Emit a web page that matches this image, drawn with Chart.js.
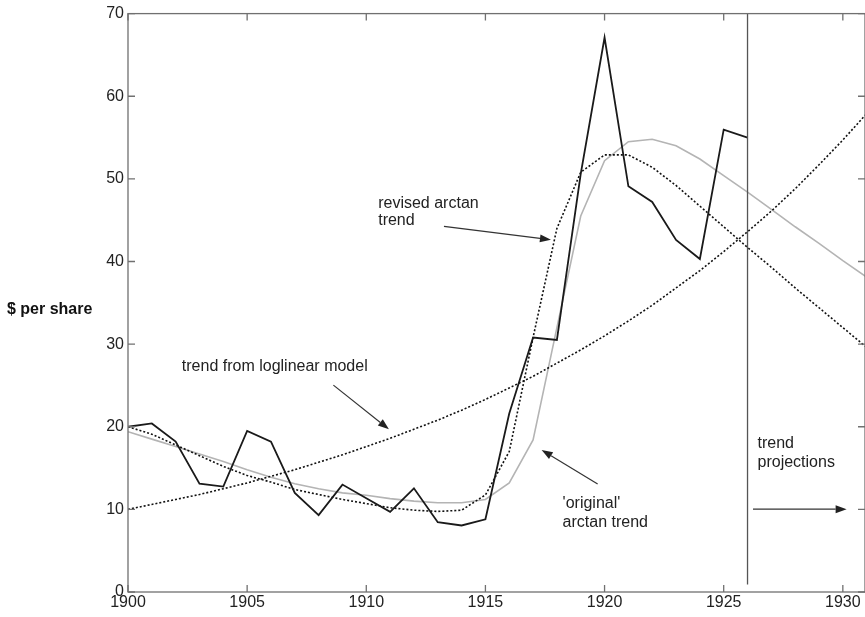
<!DOCTYPE html>
<html>
<head>
<meta charset="utf-8">
<script src="https://cdn.jsdelivr.net/npm/chart.js@4.4.1/dist/chart.umd.min.js"></script>
<style>
  html, body { margin: 0; padding: 0; background: #fff; }
  #wrap { position: relative; width: 865px; height: 617px; }
</style>
</head>
<body>
<div id="wrap"><canvas id="stockChart"></canvas></div>
<script>
// years covered
const priceYears = [1900, 1901, 1902, 1903, 1904, 1905, 1906, 1907, 1908, 1909,
    1910, 1911, 1912, 1913, 1914, 1915, 1916, 1917, 1918, 1919,
    1920, 1921, 1922, 1923, 1924, 1925, 1926];
const trendYears = [1900, 1901, 1902, 1903, 1904, 1905, 1906, 1907, 1908, 1909,
    1910, 1911, 1912, 1913, 1914, 1915, 1916, 1917, 1918, 1919,
    1920, 1921, 1922, 1923, 1924, 1925, 1926, 1927, 1928, 1929, 1930, 1931];

// $ per share
const priceValues = [20.0, 20.4, 18.2, 13.1, 12.75, 19.5, 18.2, 12.0, 9.3, 13.0,
    11.35, 9.7, 12.55, 8.45, 8.05, 8.8, 21.6, 30.8, 30.5, 50.6,
    67.1, 49.1, 47.2, 42.6, 40.3, 55.95, 55.0];
const revisedArctan = [20.0, 19.1, 17.8, 16.5, 15.2, 14.1, 13.3, 12.4, 11.8, 11.2,
    10.7, 10.2, 9.9, 9.75, 9.9, 11.75, 17.0, 30.8, 44.0, 50.8,
    52.9, 52.9, 51.4, 49.2, 46.7, 44.2, 41.7, 39.3, 36.8, 34.4, 32.0, 29.6];
const originalArctan = [19.4, 18.5, 17.6, 16.7, 15.8, 14.8, 13.9, 13.1, 12.5, 12.0,
    11.7, 11.3, 11.0, 10.8, 10.8, 11.2, 13.2, 18.4, 32.0, 45.5,
    52.2, 54.5, 54.8, 54.0, 52.4, 50.4, 48.4, 46.3, 44.2, 42.2, 40.1, 38.1];
const loglinearTrend = [10.0, 10.6, 11.2, 11.8, 12.5, 13.2, 14.0, 14.8, 15.7, 16.6,
    17.6, 18.6, 19.7, 20.8, 22.0, 23.3, 24.7, 26.1, 27.7, 29.3,
    31.0, 32.8, 34.7, 36.8, 38.9, 41.2, 43.6, 46.1, 48.8, 51.7, 54.7, 57.9];

const xTicks = [1900, 1905, 1910, 1915, 1920, 1925, 1930];
const yTicks = [0, 10, 20, 30, 40, 50, 60, 70];
const projectionYear = 1926;

// annotation texts, anchored in data units (year, value)
const notes = [
    { lines: ['revised arctan', 'trend'], at: [1910.5, 47.05], gap: 2.15 },
    { lines: ['trend from loglinear model'], at: [1902.26, 27.25], gap: 0 },
    { lines: ["'original'", 'arctan trend'], at: [1918.24, 10.66], gap: 2.26 },
    { lines: ['trend', 'projections'], at: [1926.42, 18.0], gap: 2.35 }
];
const arrows = [
    [[1913.26, 44.24], [1917.75, 42.63]],
    [[1908.62, 25.04], [1910.95, 19.69]],
    [[1919.71, 13.08], [1917.36, 17.19]],
    [[1926.23, 10.02], [1930.16, 10.02]]
];

const FONT = '"Liberation Sans", Arial, Helvetica, sans-serif';

function toXY(arr, years) {
    return arr.map((v, i) => ({ x: years[i], y: v }));
}

const framePlugin = {
    id: 'framePlugin',
    afterDatasetsDraw(chart) {
        const { ctx, chartArea: a, scales: { x, y } } = chart;
        ctx.save();

        // projection divider
        ctx.strokeStyle = '#555';
        ctx.lineWidth = 1.3;
        ctx.beginPath();
        ctx.moveTo(x.getPixelForValue(projectionYear), a.top);
        ctx.lineTo(x.getPixelForValue(projectionYear), y.getPixelForValue(0.9));
        ctx.stroke();

        // box + inward ticks
        ctx.strokeStyle = '#707070';
        ctx.lineWidth = 1.3;
        ctx.strokeRect(a.left, a.top, a.right - a.left, a.bottom - a.top);
        ctx.beginPath();
        xTicks.forEach(v => {
            const px = x.getPixelForValue(v);
            ctx.moveTo(px, a.bottom); ctx.lineTo(px, a.bottom - 7);
            ctx.moveTo(px, a.top); ctx.lineTo(px, a.top + 7);
        });
        yTicks.forEach(v => {
            const py = y.getPixelForValue(v);
            ctx.moveTo(a.left, py); ctx.lineTo(a.left + 7, py);
            ctx.moveTo(a.right, py); ctx.lineTo(a.right - 7, py);
        });
        ctx.stroke();

        // notes
        ctx.fillStyle = '#222';
        ctx.font = '16px ' + FONT;
        ctx.textAlign = 'left';
        ctx.textBaseline = 'middle';
        notes.forEach(n => {
            n.lines.forEach((t, i) => {
                ctx.fillText(t, x.getPixelForValue(n.at[0]), y.getPixelForValue(n.at[1] - i * n.gap));
            });
        });

        // arrows
        ctx.strokeStyle = '#333';
        ctx.lineWidth = 1.2;
        arrows.forEach(([from, to]) => {
            const x0 = x.getPixelForValue(from[0]), y0 = y.getPixelForValue(from[1]);
            const x1 = x.getPixelForValue(to[0]), y1 = y.getPixelForValue(to[1]);
            const ang = Math.atan2(y1 - y0, x1 - x0);
            const len = 11, half = 4;
            const bx = x1 - len * Math.cos(ang), by = y1 - len * Math.sin(ang);
            ctx.beginPath();
            ctx.moveTo(x0, y0);
            ctx.lineTo(bx, by);
            ctx.stroke();
            ctx.beginPath();
            ctx.moveTo(x1, y1);
            ctx.lineTo(bx + half * Math.sin(ang), by - half * Math.cos(ang));
            ctx.lineTo(bx - half * Math.sin(ang), by + half * Math.cos(ang));
            ctx.closePath();
            ctx.fillStyle = '#222';
            ctx.fill();
        });

        // horizontal axis title on the left
        ctx.font = 'bold 16px ' + FONT;
        ctx.fillStyle = '#111';
        ctx.textAlign = 'left';
        ctx.fillText('$ per share', 7, y.getPixelForValue(34.2));
        ctx.restore();
    }
};

new Chart(document.getElementById('stockChart'), {
    type: 'line',
    data: {
        datasets: [
            {
                label: 'price',
                data: toXY(priceValues, priceYears),
                borderColor: '#1a1a1a',
                borderWidth: 1.8
            },
            {
                label: 'revised arctan trend',
                data: toXY(revisedArctan, trendYears),
                borderColor: '#111',
                borderWidth: 1.6,
                borderDash: [2, 2]
            },
            {
                label: 'trend from loglinear model',
                data: toXY(loglinearTrend, trendYears),
                borderColor: '#111',
                borderWidth: 1.6,
                borderDash: [2, 2]
            },
            {
                label: "'original' arctan trend",
                data: toXY(originalArctan, trendYears),
                borderColor: '#b4b4b4',
                borderWidth: 1.6
            }
        ]
    },
    options: {
        responsive: true,
        maintainAspectRatio: false,
        animation: false,
        layout: { padding: { top: 11, right: 0, left: 0, bottom: 0 } },
        elements: {
            line: { tension: 0, fill: false },
            point: { radius: 0, hoverRadius: 0 }
        },
        plugins: {
            legend: { display: false },
            tooltip: { enabled: false }
        },
        scales: {
            x: {
                type: 'linear',
                min: 1900,
                max: 1930.93,
                afterBuildTicks: s => { s.ticks = xTicks.map(v => ({ value: v })); },
                afterFit: s => { s.height = 25; },
                grid: { display: false, drawTicks: false },
                border: { display: false },
                ticks: {
                    color: '#222',
                    padding: 1,
                    maxRotation: 0,
                    autoSkip: false,
                    font: { family: FONT, size: 16 },
                    callback: v => String(v)
                }
            },
            y: {
                min: 0,
                max: 70,
                afterBuildTicks: s => { s.ticks = yTicks.map(v => ({ value: v })); },
                afterFit: s => { s.width = 128; },
                grid: { display: false, drawTicks: false },
                border: { display: false },
                ticks: {
                    color: '#222',
                    padding: 4,
                    font: { family: FONT, size: 16 }
                }
            }
        }
    },
    plugins: [framePlugin]
});
</script>
</body>
</html>
